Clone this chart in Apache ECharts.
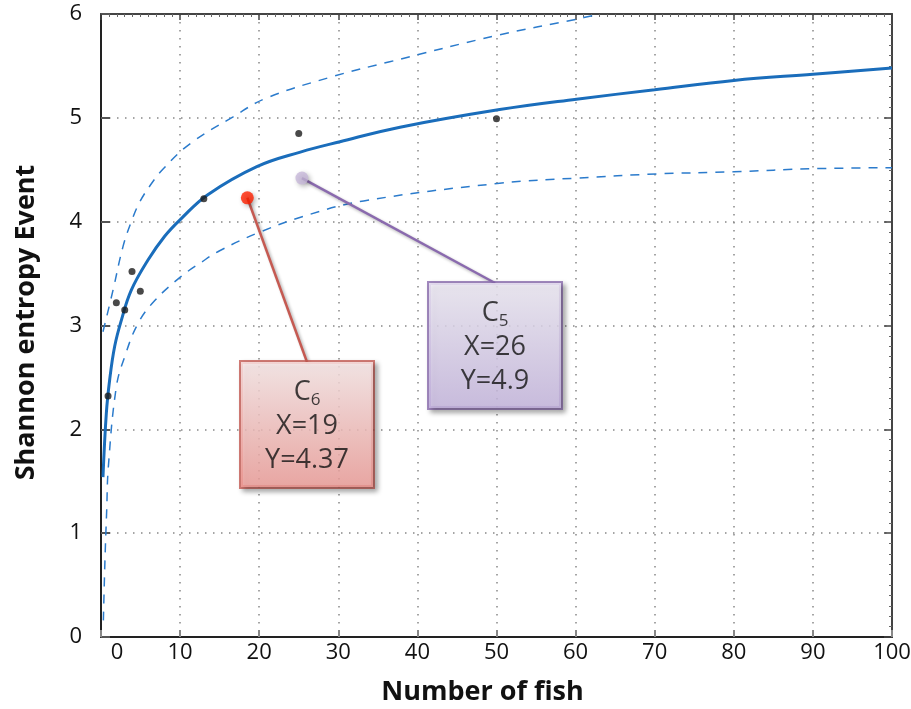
<!DOCTYPE html>
<html><head><meta charset="utf-8">
<script src="https://cdn.jsdelivr.net/npm/echarts@6/dist/echarts.min.js"></script>
<style>html,body{margin:0;padding:0;background:#fff}#c{width:911px;height:709px}</style>
</head><body><div id="c"></div>
<script>
// ---- data ----
const fitX = [0.25,0.67,1.1,1.73,2.57,3.83,5.94,8.05,10.15,13.5,19.7,25.2,30.2,37.8,50.4,60.1,70,80,90,100];
const fitY = [1.54,2.15,2.48,2.80,3.05,3.34,3.63,3.86,4.03,4.26,4.53,4.67,4.77,4.91,5.08,5.18,5.27,5.36,5.42,5.48];
const upX = [0.25,1.52,2.78,3.83,4.9,6.32,7.88,11.25,16.7,20.9,29.4,36.5,50.4,60.1,63];
const upY = [2.94,3.34,3.76,4.0,4.19,4.36,4.51,4.75,5.01,5.19,5.40,5.54,5.80,5.95,6.0];
const loX = [0.3,0.5,0.72,0.93,1.94,3.0,4.68,6.8,10.1,12.7,15,20.1,26.4,33.2,50.4,60.2,70.3,80,90,100];
const loY = [0.16,0.74,1.22,1.64,2.41,2.70,3.02,3.24,3.47,3.61,3.72,3.90,4.07,4.20,4.37,4.42,4.46,4.48,4.51,4.52];
const ptX = [0.89,1.94,3.0,3.92,4.97,13.0,25,50];
const ptY = [2.32,3.22,3.15,3.52,3.33,4.22,4.85,4.99];
const hlX = [18.5, 25.4];
const hlY = [4.23, 4.42];
const hlName = ['C', 'C'];
const hlSub = ['6', '5'];
const hlLabelX = ['19', '26'];
const hlLabelY = ['4.37', '4.9'];
const xTitle = 'Number of fish';
const yTitle = 'Shannon entropy Event';

const FONT = '"Open Sans", "Noto Sans", sans-serif';
const zip = (a, b) => a.map((v, i) => [v, b[i]]);

const chart = echarts.init(document.getElementById('c'), null, {renderer: 'canvas'});

// callout box anchors (top-centre of each box, in pixels)
const boxAnchor = [[307, 362], [495, 283]];
const boxLine = ['#c55a52', '#8a6aae'];

function callout(i, color, top, bottom) {
  return {
    type: 'scatter',
    data: [[hlX[i], hlY[i]]],
    symbolSize: 13,
    z: 10,
    silent: true,
    emphasis: {disabled: true},
    itemStyle: {color: color, shadowBlur: 5, shadowColor: 'rgba(0,0,0,0.35)', shadowOffsetX: 2, shadowOffsetY: 2},
    label: {
      show: true,
      formatter: '{c|' + hlName[i] + '}{s|' + hlSub[i] + '}\n{t|X=' + hlLabelX[i] + '}\n{t|Y=' + hlLabelY[i] + '}',
      width: 132,
      padding: [13, 0, 10, 0],
      align: 'center',
      backgroundColor: new echarts.graphic.LinearGradient(0, 0, 0, 1, [
        {offset: 0, color: top}, {offset: 1, color: bottom}
      ]),
      borderColor: boxLine[i],
      borderWidth: 2,
      shadowBlur: 5,
      shadowColor: 'rgba(0,0,0,0.35)',
      shadowOffsetX: 3,
      shadowOffsetY: 3,
      rich: {
        c: {fontSize: 27, lineHeight: 34, color: '#111', fontFamily: FONT, align: 'center'},
        s: {fontSize: 17, lineHeight: 20, color: '#111', fontFamily: FONT, verticalAlign: 'bottom', align: 'center'},
        t: {fontSize: 27, lineHeight: 34, color: '#111', fontFamily: FONT, align: 'center'}
      }
    },
    labelLayout: {x: boxAnchor[i][0], y: boxAnchor[i][1], align: 'center', verticalAlign: 'top'},
    labelLine: {show: false}
  };
}

const option = {
  animation: false,
  backgroundColor: '#fff',
  grid: {left: 101, right: 19, top: 14, bottom: 72, containLabel: false, outerBoundsMode: 'none'},
  xAxis: [{
    type: 'value', min: 0, max: 100, interval: 10, position: 'bottom',
    axisLine: {show: true, onZero: false, lineStyle: {color: '#222', width: 2}},
    axisTick: {show: true, inside: true, length: 7, lineStyle: {color: '#888', width: 2}},
    axisLabel: {
      fontSize: 22, color: '#111', margin: 5, fontFamily: FONT,
      formatter: v => v === 0 ? '{z|0}' : String(v),
      rich: {z: {fontSize: 22, color: '#111', fontFamily: FONT, padding: [0, 0, 0, 32]}}
    },
    splitLine: {show: true, lineStyle: {type: [1.5, 6.5], color: '#888', width: 1.5}},
    name: xTitle, nameLocation: 'middle', nameGap: 42,
    nameTextStyle: {fontSize: 27, fontWeight: 'bold', color: '#111', fontFamily: FONT, padding: [0, 28, 0, 0]}
  }, {
    type: 'value', min: 0, max: 100, interval: 10, position: 'top',
    axisLine: {show: true, onZero: false, lineStyle: {color: '#444', width: 2}},
    axisTick: {show: true, inside: true, length: 6, lineStyle: {color: '#444', width: 1.5}},
    minorTick: {show: true, splitNumber: 10, length: 3, lineStyle: {color: '#666', width: 1}},
    axisLabel: {show: false}, splitLine: {show: false}
  }],
  yAxis: [{
    type: 'value', min: 0, max: 6, interval: 1, position: 'left',
    axisLine: {show: true, onZero: false, lineStyle: {color: '#222', width: 2}},
    axisTick: {show: true, inside: true, length: 9, lineStyle: {color: '#555', width: 2}},
    axisLabel: {fontSize: 22, color: '#111', margin: 19, fontFamily: FONT},
    splitLine: {show: true, lineStyle: {type: [1.5, 6.5], color: '#888', width: 1.5}},
    name: yTitle, nameLocation: 'middle', nameGap: 61,
    nameTextStyle: {fontSize: 27, fontWeight: 'bold', color: '#111', fontFamily: FONT, padding: [0, 0, 0, 6]}
  }, {
    type: 'value', min: 0, max: 6, interval: 1, position: 'right',
    axisLine: {show: true, onZero: false, lineStyle: {color: '#444', width: 2}},
    axisTick: {show: true, inside: true, length: 8, lineStyle: {color: '#444', width: 1.5}},
    minorTick: {show: true, splitNumber: 10, length: 3, lineStyle: {color: '#666', width: 1}},
    axisLabel: {show: false}, splitLine: {show: false}
  }],
  series: [
    {type: 'line', data: zip(upX, upY), showSymbol: false, smooth: 0.4, silent: true,
     lineStyle: {color: '#2b7bcc', width: 1.5, type: [9, 8]}, z: 3},
    {type: 'line', data: zip(loX, loY), showSymbol: false, smooth: 0.4, silent: true,
     lineStyle: {color: '#2b7bcc', width: 1.5, type: [9, 8]}, z: 3},
    {type: 'line', data: zip(fitX, fitY), showSymbol: false, smooth: 0.4, silent: true,
     lineStyle: {color: '#1a6dbb', width: 3}, z: 4},
    {type: 'scatter', data: zip(ptX, ptY), symbolSize: 7, silent: true, itemStyle: {color: '#1b1b1b'}, z: 5},
    callout(0, '#ff2000', '#ffeeee', '#f4a09b'),
    callout(1, '#c7b8d9', '#f4f0fb', '#cbbbe5')
  ]
};
chart.setOption(option);

// connector lines: from each highlighted point (through the chart's scales) to its box
const connectors = hlX.map((x, i) => {
  const p = chart.convertToPixel({seriesIndex: 4 + i}, [x, hlY[i]]);
  return {
    type: 'line', z: 6, silent: true,
    shape: {x1: p[0], y1: p[1], x2: boxAnchor[i][0], y2: boxAnchor[i][1]},
    style: {stroke: boxLine[i], lineWidth: 2.5, shadowBlur: 3, shadowColor: 'rgba(0,0,0,0.3)', shadowOffsetX: 2, shadowOffsetY: 2}
  };
});
chart.setOption({graphic: connectors});
</script>
</body></html>
